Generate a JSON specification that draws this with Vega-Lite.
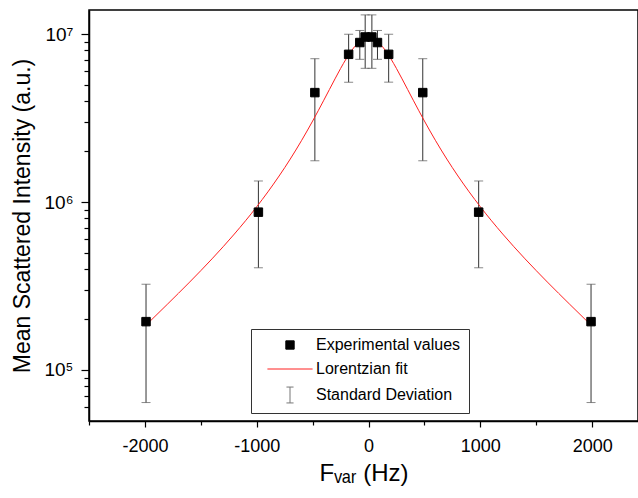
{
  "$schema": "https://vega.github.io/schema/vega-lite/v6.json",
  "width": 549,
  "height": 411,
  "autosize": "none",
  "padding": {"left": 89, "top": 10, "right": 0, "bottom": 77},
  "background": "white",
  "config": {
    "view": {"stroke": "black", "strokeWidth": 1.5},
    "font": "Liberation Sans",
    "axis": {
      "labelFont": "Liberation Sans",
      "titleFont": "Liberation Sans",
      "labelColor": "black",
      "titleColor": "black",
      "domainColor": "black",
      "tickColor": "black",
      "grid": false,
      "titleFontWeight": "normal",
      "domainWidth": 1.5,
      "tickWidth": 1.2
    },
    "legend": {
      "orient": "none",
      "legendX": 162,
      "legendY": 319,
      "strokeColor": "#333333",
      "fillColor": "white",
      "padding": 8,
      "labelFont": "Liberation Sans",
      "labelFontSize": 16,
      "labelColor": "black",
      "symbolSize": 70,
      "symbolStrokeWidth": 1,
      "symbolOffset": 23,
      "labelOffset": 18,
      "rowPadding": 8
    }
  },
  "datasets": {
    "points": [
      {"x": -1990, "y": 194000, "lo": 64000, "hi": 324000, "kind": "Experimental values"},
      {"x": -985, "y": 870000, "lo": 406000, "hi": 1334000, "kind": "Experimental values"},
      {"x": -480, "y": 4480000, "lo": 1760000, "hi": 7130000, "kind": "Experimental values"},
      {"x": -178, "y": 7570000, "lo": 5170000, "hi": 9970000, "kind": "Experimental values"},
      {"x": -78, "y": 8900000, "lo": 7070000, "hi": 10500000, "kind": "Experimental values"},
      {"x": -30, "y": 9600000, "lo": 6250000, "hi": 13000000, "kind": "Experimental values"},
      {"x": 30, "y": 9600000, "lo": 6250000, "hi": 13000000, "kind": "Experimental values"},
      {"x": 80, "y": 8900000, "lo": 7070000, "hi": 10500000, "kind": "Experimental values"},
      {"x": 180, "y": 7570000, "lo": 5170000, "hi": 9970000, "kind": "Experimental values"},
      {"x": 485, "y": 4480000, "lo": 1760000, "hi": 7130000, "kind": "Experimental values"},
      {"x": 985, "y": 870000, "lo": 406000, "hi": 1334000, "kind": "Experimental values"},
      {"x": 1990, "y": 194000, "lo": 64000, "hi": 324000, "kind": "Experimental values"}
    ],
    "fit": [
      {"x": -1990, "y": 184900},
      {"x": -1800, "y": 245900},
      {"x": -1600, "y": 333600},
      {"x": -1400, "y": 458700},
      {"x": -1200, "y": 644700},
      {"x": -1000, "y": 937000},
      {"x": -900, "y": 1149000},
      {"x": -800, "y": 1428000},
      {"x": -700, "y": 1802000},
      {"x": -600, "y": 2317000},
      {"x": -500, "y": 3033000},
      {"x": -450, "y": 3493000},
      {"x": -400, "y": 4036000},
      {"x": -350, "y": 4672000},
      {"x": -300, "y": 5407000},
      {"x": -250, "y": 6232000},
      {"x": -200, "y": 7116000},
      {"x": -150, "y": 7996000},
      {"x": -100, "y": 8768000},
      {"x": -50, "y": 9306000},
      {"x": 0, "y": 9500000},
      {"x": 50, "y": 9306000},
      {"x": 100, "y": 8768000},
      {"x": 150, "y": 7996000},
      {"x": 200, "y": 7116000},
      {"x": 250, "y": 6232000},
      {"x": 300, "y": 5407000},
      {"x": 350, "y": 4672000},
      {"x": 400, "y": 4036000},
      {"x": 450, "y": 3493000},
      {"x": 500, "y": 3033000},
      {"x": 600, "y": 2317000},
      {"x": 700, "y": 1802000},
      {"x": 800, "y": 1428000},
      {"x": 900, "y": 1149000},
      {"x": 1000, "y": 937000},
      {"x": 1200, "y": 644700},
      {"x": 1400, "y": 458700},
      {"x": 1600, "y": 333600},
      {"x": 1800, "y": 245900},
      {"x": 1990, "y": 184900}
    ]
  },
  "layer": [
    {
      "data": {"name": "points"},
      "mark": {"type": "rule", "color": "#333333", "strokeWidth": 1},
      "encoding": {
        "x": {
          "field": "x", "type": "quantitative",
          "scale": {"domain": [-2500, 2410], "nice": false, "zero": false},
          "axis": {
            "orient": "bottom",
            "values": [-2000, -1000, 0, 1000, 2000],
            "labelExpr": "'' + datum.value",
            "tickSize": 6,
            "labelFontSize": 18,
            "labelPadding": 10,
            "title": "Fᵥₐᵣ (Hz)",
            "titleFontSize": 24,
            "titlePadding": 6
          }
        },
        "y": {
          "field": "lo", "type": "quantitative",
          "scale": {"type": "log", "domain": [49700, 13900000], "nice": false},
          "axis": {
            "orient": "left",
            "values": [100000, 1000000, 10000000],
            "tickSize": 8,
            "labelFontSize": 19,
            "labelPadding": 8,
            "labelExpr": "'10' + (datum.value >= 5000000 ? '⁷' : datum.value >= 500000 ? '⁶' : '⁵')",
            "title": "Mean Scattered Intensity (a.u.)",
            "titleFontSize": 23,
            "titlePadding": 9
          }
        },
        "y2": {"field": "hi"}
      }
    },
    {
      "data": {"name": "points"},
      "mark": {"type": "tick", "orient": "horizontal", "size": 9, "thickness": 1, "color": "#555555"},
      "encoding": {
        "x": {"field": "x", "type": "quantitative", "axis": null},
        "y": {"field": "hi", "type": "quantitative", "axis": null}
      }
    },
    {
      "data": {"name": "points"},
      "mark": {"type": "tick", "orient": "horizontal", "size": 9, "thickness": 1, "color": "#555555"},
      "encoding": {
        "x": {"field": "x", "type": "quantitative", "axis": null},
        "y": {"field": "lo", "type": "quantitative", "axis": null}
      }
    },
    {
      "data": {"name": "fit"},
      "mark": {"type": "line", "color": "#ff2020", "strokeWidth": 1, "interpolate": "monotone"},
      "encoding": {
        "x": {
          "field": "x", "type": "quantitative",
          "axis": {"orient": "bottom", "values": [-2500, -1500, -500, 500, 1500], "tickSize": 4, "labels": false, "domain": false, "title": null}
        },
        "y": {
          "field": "y", "type": "quantitative",
          "axis": {"orient": "left", "values": [60000, 70000, 80000, 90000, 200000, 300000, 400000, 500000, 600000, 700000, 800000, 900000, 2000000, 3000000, 4000000, 5000000, 6000000, 7000000, 8000000, 9000000], "tickSize": 5, "labels": false, "domain": false, "title": null}
        }
      }
    },
    {
      "data": {"name": "points"},
      "mark": {"type": "point", "filled": true, "size": 72, "opacity": 1, "strokeWidth": 1},
      "encoding": {
        "x": {"field": "x", "type": "quantitative", "axis": null},
        "y": {"field": "y", "type": "quantitative", "axis": null},
        "fill": {
          "field": "kind", "type": "nominal",
          "scale": {"domain": ["Experimental values", "Lorentzian fit", "Standard Deviation"], "range": ["black", "#ff2020", "#777777"]},
          "legend": {"title": null}
        },
        "stroke": {
          "field": "kind", "type": "nominal",
          "scale": {"domain": ["Experimental values", "Lorentzian fit", "Standard Deviation"], "range": ["black", "#ff2020", "#777777"]},
          "legend": {"title": null}
        },
        "shape": {
          "field": "kind", "type": "nominal",
          "scale": {"domain": ["Experimental values", "Lorentzian fit", "Standard Deviation"], "range": ["square", "M-5.4,0H5.4", "M-0.85,-1.9H0.85M0,-1.9V1.9M-0.85,1.9H0.85"]},
          "legend": {"title": null}
        }
      }
    }
  ],
  "resolve": {"axis": {"x": "independent", "y": "independent"}}
}
